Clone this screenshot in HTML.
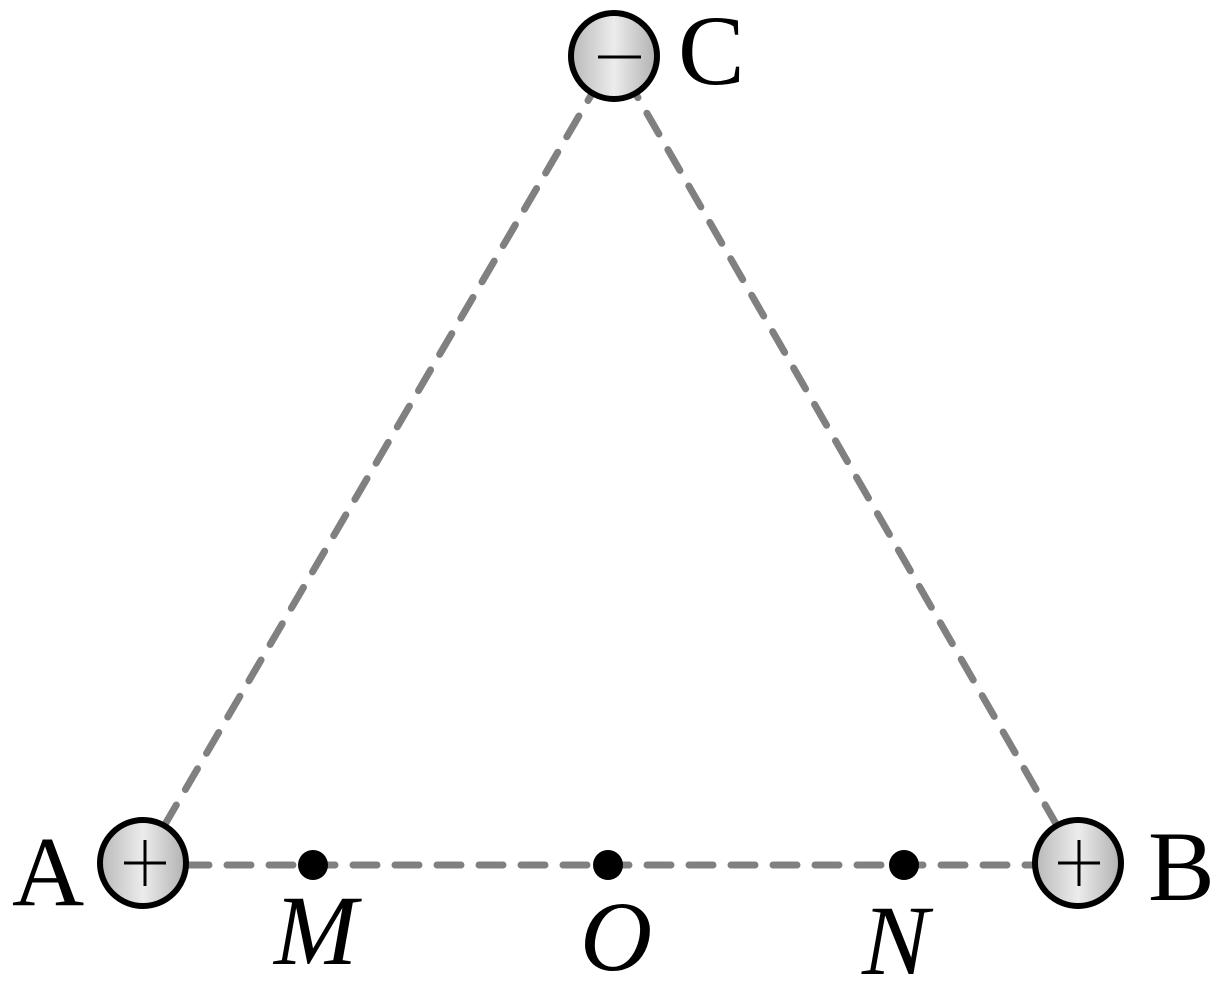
<!DOCTYPE html>
<html><head><style>body{margin:0;background:#fff}
.t{font-family:"Liberation Serif","Times New Roman",serif;font-size:100px;fill:#000}
.i{font-style:italic}</style></head><body>
<svg width="1217" height="989" viewBox="0 0 1217 989" xmlns="http://www.w3.org/2000/svg">
<defs>
<linearGradient id="g" x1="0" x2="1" y1="0" y2="0">
<stop offset="0" stop-color="#b8b8b8"/><stop offset="0.5" stop-color="#ececec"/><stop offset="1" stop-color="#b0b0b0"/>
</linearGradient>
</defs>
<g stroke="#808080" stroke-width="7" stroke-linecap="round" stroke-dasharray="24 18" fill="none">
<line x1="143" y1="862" x2="614" y2="56"/>
<line x1="1078" y1="862" x2="614" y2="56"/>
<line x1="143" y1="865" x2="1078" y2="865"/>
</g>
<g stroke="#000" stroke-width="6" fill="url(#g)">
<circle cx="143" cy="863" r="43"/>
<circle cx="1078" cy="863" r="43"/>
<circle cx="614" cy="56" r="43"/>
</g>
<g stroke="#000" stroke-width="3">
<line x1="124" y1="863" x2="166" y2="863"/><line x1="145" y1="840" x2="145" y2="886"/>
<line x1="1058" y1="863" x2="1100" y2="863"/><line x1="1079" y1="840" x2="1079" y2="886"/>
<line x1="598" y1="57" x2="641" y2="57"/>
</g>
<g fill="#000">
<circle cx="313" cy="865" r="15"/><circle cx="608" cy="865" r="15"/><circle cx="904" cy="865" r="15"/>
</g>
<text class="t" x="12" y="905">A</text>
<text class="t" x="1148" y="900">B</text>
<text class="t" x="678" y="84">C</text>
<text class="t i" x="274" y="964">M</text>
<text class="t i" x="580" y="970">O</text>
<text class="t i" x="862" y="974">N</text>
</svg>
</body></html>
